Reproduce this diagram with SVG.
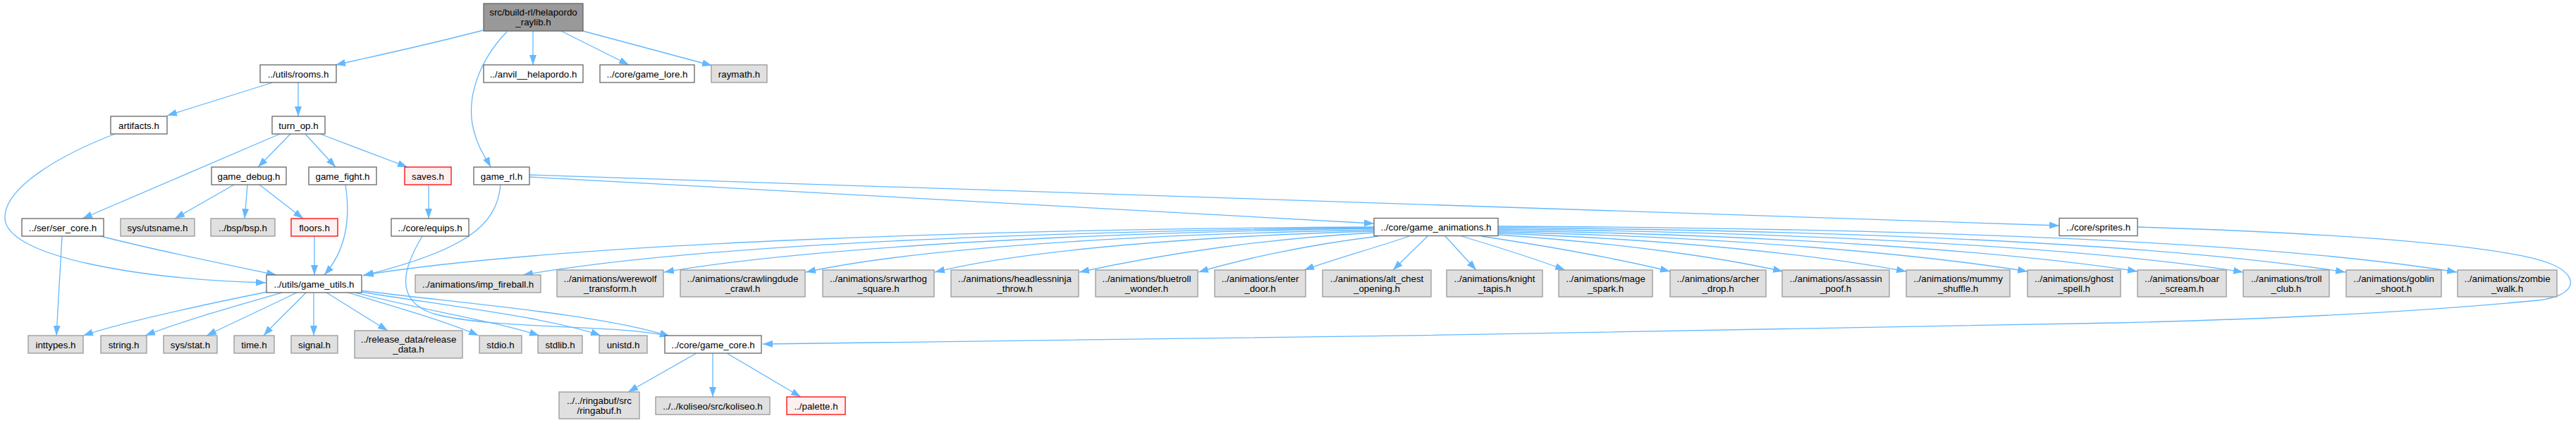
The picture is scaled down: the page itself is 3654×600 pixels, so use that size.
<svg xmlns="http://www.w3.org/2000/svg" width="3654" height="600" viewBox="0 0 3654 600">
<style>
rect{stroke-width:1.3}
.w rect{fill:#ffffff;stroke:#666666}
.g rect{fill:#e0e0e0;stroke:#999999}
.r rect{fill:#fff0f0;stroke:#ff0000}
.k rect{fill:#999999;stroke:#666666}
text{font-family:"Liberation Sans",Arial,Helvetica,sans-serif;font-size:13.33px;text-anchor:middle;fill:#000000}
#edges path{fill:none;stroke:#63b8ff;stroke-width:1.3;marker-end:url(#a)}
</style>
<defs>
<marker id="a" viewBox="0 0 14 10" refX="14" refY="5" markerWidth="14" markerHeight="10" markerUnits="userSpaceOnUse" orient="auto">
<path d="M0,0 L14,5 L0,10 z" fill="#63b8ff"/>
</marker>
</defs>
<rect width="3654" height="600" fill="#ffffff"/>
<g id="edges">
<path d="M685,43 C620,60 540,78 476,92"/>
<path d="M719,45 C680,85 660,140 672,185 C678,210 690,225 696,237"/>
<path d="M756,44 L756,92"/>
<path d="M796,44 L892,92"/>
<path d="M827,44 L1010,93"/>
<path d="M387,117 L237,164"/>
<path d="M423,117 L423,165"/>
<path d="M163,190 C90,218 5,265 7,310 C10,365 200,396 377,401"/>
<path d="M397,190 L117,310"/>
<path d="M412,190 L366,237"/>
<path d="M433,190 L476,237"/>
<path d="M454,190 L578,237"/>
<path d="M332,262 L248,310"/>
<path d="M351,262 L347,310"/>
<path d="M368,262 L430,310"/>
<path d="M446,335 L446,390"/>
<path d="M490,262 C496,300 495,350 460,390"/>
<path d="M608,262 L608,310"/>
<path d="M88,335 L80,476"/>
<path d="M143,335 C220,355 320,375 392,390"/>
<path d="M710,262 C705,320 660,355 515,391"/>
<path d="M751,251 L1949,317"/>
<path d="M751,248 L2921,320"/>
<path d="M1949,322 C1400,325 800,345 516,390"/>
<path d="M1949,323 C1500,328 1000,345 742,390"/>
<path d="M1949,324 C1550,330 1150,350 942,386"/>
<path d="M1949,326 C1600,333 1300,352 1143,386"/>
<path d="M1949,328 C1700,335 1450,355 1326,386"/>
<path d="M1950,330 C1800,338 1650,360 1531,386"/>
<path d="M1955,335 C1850,348 1760,368 1700,386"/>
<path d="M1999,335 C1950,352 1890,368 1850,383"/>
<path d="M2025,335 L1976,383"/>
<path d="M2050,335 L2094,383"/>
<path d="M2073,335 C2130,352 2180,368 2220,383"/>
<path d="M2101,335 C2200,350 2300,368 2369,385"/>
<path d="M2125,333 C2300,345 2440,365 2529,385"/>
<path d="M2125,331 C2380,340 2580,362 2704,385"/>
<path d="M2125,329 C2450,336 2720,360 2876,385"/>
<path d="M2125,327 C2520,333 2850,357 3032,385"/>
<path d="M2125,325 C2600,330 2980,354 3182,386"/>
<path d="M2125,323 C2680,327 3100,350 3327,386"/>
<path d="M2125,321 C2760,324 3230,345 3485,386"/>
<path d="M3032,322 C3350,332 3560,350 3620,375 C3660,392 3655,420 3600,426 C3400,445 3200,453 3000,458 C2500,470 1600,482 1082,488"/>
<path d="M379,414 C300,430 180,455 118,476"/>
<path d="M400,415 C330,435 260,455 206,476"/>
<path d="M421,415 C380,435 330,458 293,476"/>
<path d="M434,415 C415,435 390,458 374,476"/>
<path d="M445,415 L445,476"/>
<path d="M463,415 L550,469"/>
<path d="M490,414 C560,435 630,455 679,476"/>
<path d="M500,414 C600,440 700,455 765,476"/>
<path d="M505,413 C620,432 780,450 852,476"/>
<path d="M511,412 C650,430 850,445 950,477"/>
<path d="M599,335 C575,375 555,425 615,445 C700,468 880,460 950,477"/>
<path d="M988,501 L891,556"/>
<path d="M1011,501 L1011,563"/>
<path d="M1031,501 L1136,563"/>
</g>
<g id="n_root" class="k"><rect x="686" y="5" width="141" height="39"/><text x="756.5" y="21.7">src/build-rl/helapordo</text><text x="756.5" y="36">_raylib.h</text></g>
<g id="n_rooms" class="w"><rect x="369" y="92" width="108" height="25"/><text x="423" y="109.5">../utils/rooms.h</text></g>
<g id="n_anvil" class="w"><rect x="686" y="92" width="141" height="25"/><text x="756.5" y="109.5">../anvil__helapordo.h</text></g>
<g id="n_lore" class="w"><rect x="851" y="92" width="134" height="25"/><text x="918" y="109.5">../core/game_lore.h</text></g>
<g id="n_raymath" class="g"><rect x="1009" y="92" width="79" height="25"/><text x="1048.5" y="109.5">raymath.h</text></g>
<g id="n_artifacts" class="w"><rect x="157" y="165" width="80" height="25"/><text x="197" y="182.5">artifacts.h</text></g>
<g id="n_turnop" class="w"><rect x="386" y="165" width="75" height="25"/><text x="423.5" y="182.5">turn_op.h</text></g>
<g id="n_debug" class="w"><rect x="300" y="237" width="106" height="25"/><text x="353" y="254.5">game_debug.h</text></g>
<g id="n_fight" class="w"><rect x="438" y="237" width="96" height="25"/><text x="486" y="254.5">game_fight.h</text></g>
<g id="n_saves" class="r"><rect x="574" y="237" width="66" height="25"/><text x="607" y="254.5">saves.h</text></g>
<g id="n_gamerl" class="w"><rect x="672" y="237" width="79" height="25"/><text x="711.5" y="254.5">game_rl.h</text></g>
<g id="n_sercore" class="w"><rect x="31" y="310" width="116" height="25"/><text x="89" y="327.5">../ser/ser_core.h</text></g>
<g id="n_utsname" class="g"><rect x="171" y="310" width="105" height="25"/><text x="223.5" y="327.5">sys/utsname.h</text></g>
<g id="n_bsp" class="g"><rect x="299" y="310" width="91" height="25"/><text x="344.5" y="327.5">../bsp/bsp.h</text></g>
<g id="n_floors" class="r"><rect x="413" y="310" width="66" height="25"/><text x="446" y="327.5">floors.h</text></g>
<g id="n_equips" class="w"><rect x="555" y="310" width="110" height="25"/><text x="610" y="327.5">../core/equips.h</text></g>
<g id="n_anims" class="w"><rect x="1949" y="309.5" width="176" height="25"/><text x="2037" y="327">../core/game_animations.h</text></g>
<g id="n_sprites" class="w"><rect x="2921" y="309.5" width="111" height="25"/><text x="2976.5" y="327">../core/sprites.h</text></g>
<g id="n_utils" class="w"><rect x="378" y="390" width="135" height="25"/><text x="445.5" y="407.5">../utils/game_utils.h</text></g>
<g id="n_imp" class="g"><rect x="589" y="390" width="178" height="25"/><text x="678" y="407.5">../animations/imp_fireball.h</text></g>
<g id="n_werewolf" class="g"><rect x="790" y="383" width="151" height="38"/><text x="865.5" y="399.7">../animations/werewolf</text><text x="865.5" y="414">_transform.h</text></g>
<g id="n_crawl" class="g"><rect x="965" y="383" width="177" height="38"/><text x="1053.5" y="399.7">../animations/crawlingdude</text><text x="1053.5" y="414">_crawl.h</text></g>
<g id="n_srwarthog" class="g"><rect x="1167" y="383" width="158" height="38"/><text x="1246" y="399.7">../animations/srwarthog</text><text x="1246" y="414">_square.h</text></g>
<g id="n_headless" class="g"><rect x="1349" y="383" width="181" height="38"/><text x="1439.5" y="399.7">../animations/headlessninja</text><text x="1439.5" y="414">_throw.h</text></g>
<g id="n_bluetroll" class="g"><rect x="1554" y="383" width="145" height="38"/><text x="1626.5" y="399.7">../animations/bluetroll</text><text x="1626.5" y="414">_wonder.h</text></g>
<g id="n_enter" class="g"><rect x="1723" y="383" width="129" height="38"/><text x="1787.5" y="399.7">../animations/enter</text><text x="1787.5" y="414">_door.h</text></g>
<g id="n_altchest" class="g"><rect x="1876" y="383" width="154" height="38"/><text x="1953" y="399.7">../animations/alt_chest</text><text x="1953" y="414">_opening.h</text></g>
<g id="n_knight" class="g"><rect x="2052" y="383" width="136" height="38"/><text x="2120" y="399.7">../animations/knight</text><text x="2120" y="414">_tapis.h</text></g>
<g id="n_mage" class="g"><rect x="2211" y="383" width="133" height="38"/><text x="2277.5" y="399.7">../animations/mage</text><text x="2277.5" y="414">_spark.h</text></g>
<g id="n_archer" class="g"><rect x="2369" y="383" width="136" height="38"/><text x="2437" y="399.7">../animations/archer</text><text x="2437" y="414">_drop.h</text></g>
<g id="n_assassin" class="g"><rect x="2528" y="383" width="152" height="38"/><text x="2604" y="399.7">../animations/assassin</text><text x="2604" y="414">_poof.h</text></g>
<g id="n_mummy" class="g"><rect x="2704" y="383" width="147" height="38"/><text x="2777.5" y="399.7">../animations/mummy</text><text x="2777.5" y="414">_shuffle.h</text></g>
<g id="n_ghost" class="g"><rect x="2876" y="383" width="132" height="38"/><text x="2942" y="399.7">../animations/ghost</text><text x="2942" y="414">_spell.h</text></g>
<g id="n_boar" class="g"><rect x="3032" y="383" width="126" height="38"/><text x="3095" y="399.7">../animations/boar</text><text x="3095" y="414">_scream.h</text></g>
<g id="n_troll" class="g"><rect x="3182" y="383" width="122" height="38"/><text x="3243" y="399.7">../animations/troll</text><text x="3243" y="414">_club.h</text></g>
<g id="n_goblin" class="g"><rect x="3328" y="383" width="135" height="38"/><text x="3395.5" y="399.7">../animations/goblin</text><text x="3395.5" y="414">_shoot.h</text></g>
<g id="n_zombie" class="g"><rect x="3486" y="383" width="141" height="38"/><text x="3556.5" y="399.7">../animations/zombie</text><text x="3556.5" y="414">_walk.h</text></g>
<g id="n_inttypes" class="g"><rect x="40" y="476" width="78" height="25"/><text x="79" y="493.5">inttypes.h</text></g>
<g id="n_string" class="g"><rect x="143" y="476" width="65" height="25"/><text x="175.5" y="493.5">string.h</text></g>
<g id="n_sysstat" class="g"><rect x="232" y="476" width="76" height="25"/><text x="270" y="493.5">sys/stat.h</text></g>
<g id="n_time" class="g"><rect x="332" y="476" width="57" height="25"/><text x="360.5" y="493.5">time.h</text></g>
<g id="n_signal" class="g"><rect x="413" y="476" width="66" height="25"/><text x="446" y="493.5">signal.h</text></g>
<g id="n_release" class="g"><rect x="503" y="469" width="153" height="39"/><text x="579.5" y="485.7">../release_data/release</text><text x="579.5" y="500">_data.h</text></g>
<g id="n_stdio" class="g"><rect x="680" y="476" width="60" height="25"/><text x="710" y="493.5">stdio.h</text></g>
<g id="n_stdlib" class="g"><rect x="763" y="476" width="63" height="25"/><text x="794.5" y="493.5">stdlib.h</text></g>
<g id="n_unistd" class="g"><rect x="850" y="476" width="68" height="25"/><text x="884" y="493.5">unistd.h</text></g>
<g id="n_gamecore" class="w"><rect x="943" y="476" width="137" height="25"/><text x="1011.5" y="493.5">../core/game_core.h</text></g>
<g id="n_ringabuf" class="g"><rect x="793" y="556" width="114" height="38"/><text x="850" y="572.7">../../ringabuf/src</text><text x="850" y="587">/ringabuf.h</text></g>
<g id="n_koliseo" class="g"><rect x="930" y="563" width="162" height="25"/><text x="1011" y="580.5">../../koliseo/src/koliseo.h</text></g>
<g id="n_palette" class="r"><rect x="1116" y="563" width="83" height="25"/><text x="1157.5" y="580.5">../palette.h</text></g>
</svg>
